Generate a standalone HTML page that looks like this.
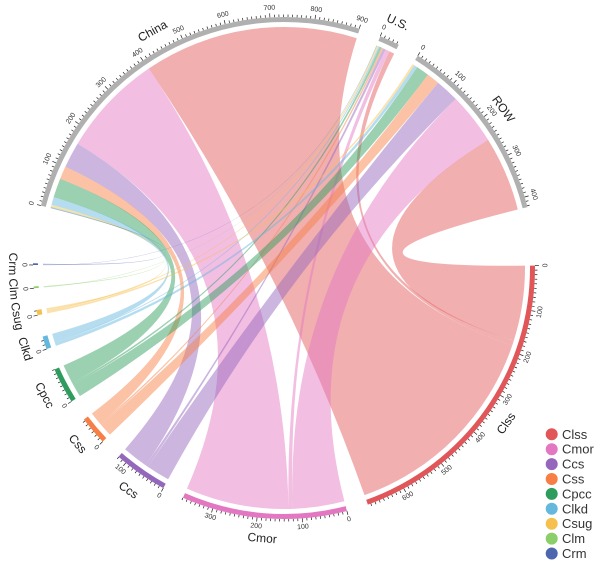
<!DOCTYPE html>
<html><head><meta charset="utf-8"><style>
html,body{margin:0;padding:0;background:#fff;}
svg{display:block;font-family:"Liberation Sans",sans-serif;}
</style></head><body>
<svg id="chart" width="600" height="564" viewBox="0 0 600 564"></svg>
<script>
const products = ['Clss','Cmor','Ccs','Css','Cpcc','Clkd','Csug','Clm','Crm'];
const exporters = ['China','U.S.','ROW'];
const chinaValues = [500,240,60,30,45,18,4,2,2];
const usValues = [12,10,6,4,5,3,3,1,1];
const rowValues = [175,120,55,30,30,8,5,0,0];
const productColors = ['#e15759','#e377c2','#9467bd','#f77f45','#2e9c5d','#64b7dd','#f6c04f','#8cce6a','#4e66ae'];

const svg = document.getElementById('chart');
const NS = 'http://www.w3.org/2000/svg';
const cx = 284, cy = 268, rChord = 241, rIn = 246, rOut = 251;
const flows = [chinaValues, usValues, rowValues];
const expTotals = flows.map(f => f.reduce((a,b)=>a+b,0));
const prodTotals = products.map((p,i)=>flows.reduce((a,f)=>a+f[i],0));
const nodes = [];
exporters.forEach((n,i)=>nodes.push({name:n,total:expTotals[i],color:'#b0b0b0',type:'e',idx:i}));
products.forEach((n,i)=>nodes.push({name:n,total:prodTotals[i],color:productColors[i],type:'p',idx:i}));
const gaps = nodes.map((n,i)=> (n.name==='ROW'?13.5:(n.name==='Crm'?13.4:5)));
const gapSum = gaps.reduce((a,b)=>a+b,0);
const valSum = nodes.reduce((a,n)=>a+n.total,0);
const k = (360-gapSum)/valSum;
let ang = 284.4;
nodes.forEach((n,i)=>{n.a0=ang; n.a1=ang+n.total*k; ang=n.a1+gaps[i];});
const rad = d => d*Math.PI/180;
const pt = (a,r)=>[cx+r*Math.sin(rad(a)), cy-r*Math.cos(rad(a))];
function el(tag, attrs){const e=document.createElementNS(NS,tag);for(const a in attrs)e.setAttribute(a,attrs[a]);return e;}

const sub = {};
nodes.forEach(n=>{
  let a=n.a0;
  if(n.type==='e'){
    for(let p=products.length-1;p>=0;p--){const v=flows[n.idx][p]; (sub[n.idx+'-'+p]=sub[n.idx+'-'+p]||{}).s0=a; a+=v*k; sub[n.idx+'-'+p].s1=a;}
  } else {
    [2,1,0].forEach(e=>{const v=flows[e][n.idx]; (sub[e+'-'+n.idx]=sub[e+'-'+n.idx]||{}).t0=a; a+=v*k; sub[e+'-'+n.idx].t1=a;});
  }
});
function arcPath(a0,a1,r,sweepDir){const p=pt(a1,r);const large=Math.abs(a1-a0)>180?1:0;return `A${r},${r} 0 ${large} ${sweepDir} ${p[0]},${p[1]}`;}

const gChords = el('g',{});


svg.appendChild(gChords);
for(let e=0;e<3;e++){
  for(let p=0;p<products.length;p++){
    const v=flows[e][p]; if(!v) continue;
    const s=sub[e+'-'+p];
    const s0=pt(s.s0,rChord), t0=pt(s.t0,rChord);
    const d=`M${s0[0]},${s0[1]} ${arcPath(s.s0,s.s1,rChord,1)} Q${cx},${cy} ${t0[0]},${t0[1]} ${arcPath(s.t0,s.t1,rChord,1)} Q${cx},${cy} ${s0[0]},${s0[1]}Z`;
    const path=el('path',{d:d,fill:productColors[p],'fill-opacity':0.48});
    
    
    gChords.appendChild(path);
  }
}

function rotFor(a){a=((a%360)+360)%360;return (a>90 && a<280)? a-180 : a;}
nodes.forEach(n=>{
  const g=el('g',{});
  
  
  svg.appendChild(g);
  const a0=n.a0, a1=Math.max(n.a1,n.a0+0.4);
  const p0=pt(a0,rOut),p1=pt(a1,rOut),p2=pt(a1,rIn),p3=pt(a0,rIn);
  const large=(a1-a0)>180?1:0;
  const arc=el('path',{d:`M${p0[0]},${p0[1]} A${rOut},${rOut} 0 ${large} 1 ${p1[0]},${p1[1]} L${p2[0]},${p2[1]} A${rIn},${rIn} 0 ${large} 0 ${p3[0]},${p3[1]}Z`,fill:n.color});
  
  
  g.appendChild(arc);
  for(let v=0; v<=n.total; v+=10){
    const a=n.a0+v*k; const major=v%100===0;
    const q0=pt(a,rOut), q1=pt(a,rOut+(major?4:2.5));
    const t=el('line',{x1:q0[0],y1:q0[1],x2:q1[0],y2:q1[1],stroke:'#222','stroke-width':0.7});
    
    
    g.appendChild(t);
    if(major){
      const lp=pt(a,rOut+9);
      const tx=el('text',{x:lp[0],y:lp[1],'font-size':7,fill:'#333','text-anchor':'middle','dominant-baseline':'central',transform:`rotate(${rotFor(a)} ${lp[0]} ${lp[1]})`});
      tx.textContent=v;
      
      
      g.appendChild(tx);
    }
  }
  const am=(n.a0+n.a1)/2; const lp=pt(am,rOut+20);
  const lab=el('text',{x:lp[0],y:lp[1],'font-size':12,fill:'#222','text-anchor':'middle','dominant-baseline':'central',transform:`rotate(${rotFor(am)} ${lp[0]} ${lp[1]})`});
  lab.textContent=n.name;
  
  
  g.appendChild(lab);
});

const leg=el('g',{});


svg.appendChild(leg);
products.forEach((p,i)=>{
  const y=434.3+i*14.9;
  const c=el('circle',{cx:551.7,cy:y,r:6,fill:productColors[i]});
  
  
  leg.appendChild(c);
  const t=el('text',{x:562,y:y,'font-size':13,fill:'#333','dominant-baseline':'central'});
  t.textContent=p;
  
  
  leg.appendChild(t);
});
</script>
</body></html>
